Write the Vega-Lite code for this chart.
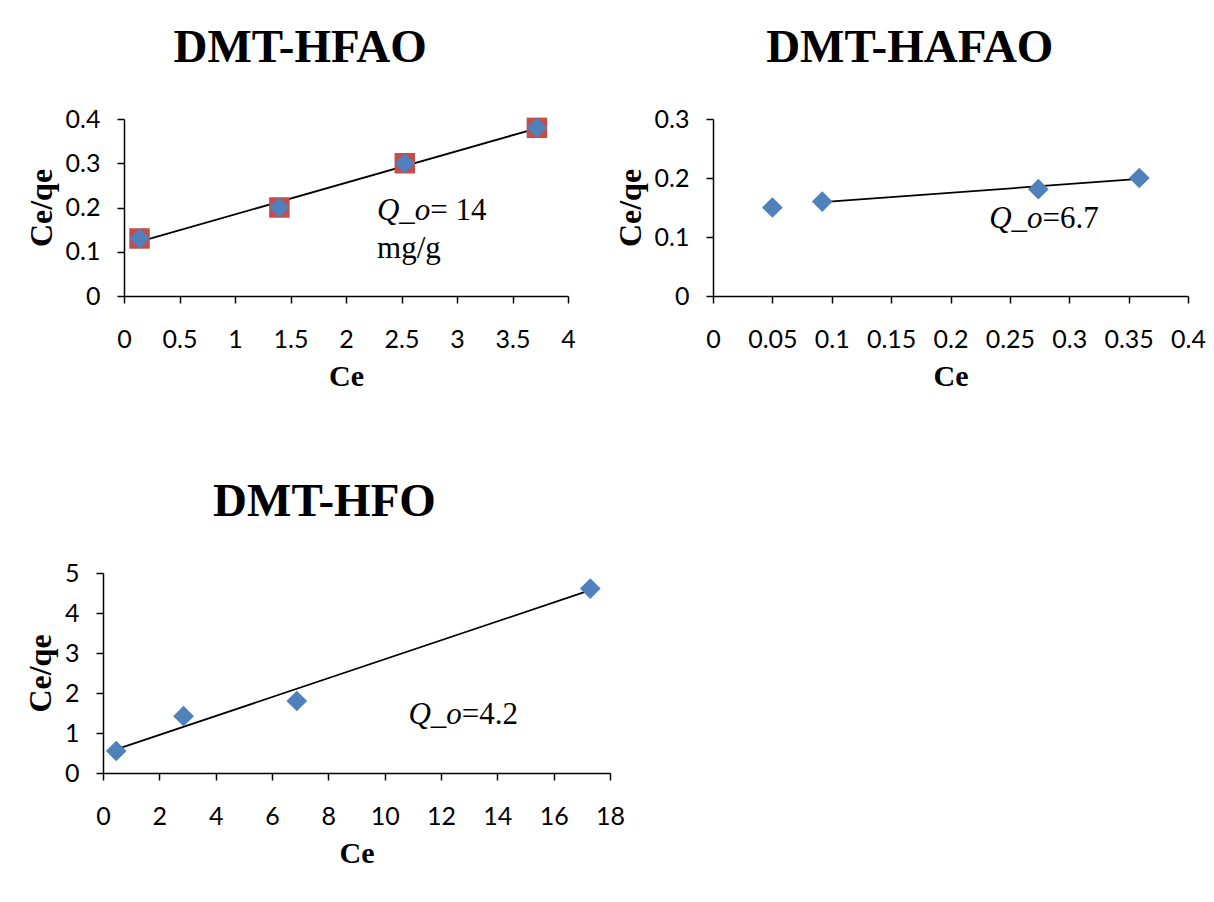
{
  "$schema": "https://vega.github.io/schema/vega-lite/v6.json",
  "background": "white",
  "padding": {"left": 24, "top": 24, "right": 5, "bottom": 5},
  "datasets": {
    "pts1": [{"Ce": 0.14, "ratio": 0.13}, {"Ce": 1.4, "ratio": 0.2}, {"Ce": 2.53, "ratio": 0.3}, {"Ce": 3.72, "ratio": 0.38}],
    "fit1": [{"Ce": 0.14, "ratio": 0.123}, {"Ce": 3.72, "ratio": 0.379}],
    "q1": [{"Ce": 2.76, "ratio": 0.172, "label": "Q_o"}],
    "r1": [{"Ce": 2.76, "ratio": 0.172, "label": "= 14"}, {"Ce": 2.28, "ratio": 0.086, "label": "mg/g"}],
    "pts2": [{"Ce": 0.05, "ratio": 0.15}, {"Ce": 0.092, "ratio": 0.16}, {"Ce": 0.274, "ratio": 0.181}, {"Ce": 0.359, "ratio": 0.2}],
    "fit2": [{"Ce": 0.092, "ratio": 0.159}, {"Ce": 0.359, "ratio": 0.1985}],
    "q2": [{"Ce": 0.2775, "ratio": 0.115, "label": "Q_o"}],
    "r2": [{"Ce": 0.2775, "ratio": 0.115, "label": "=6.7"}],
    "pts3": [{"Ce": 0.47, "ratio": 0.55}, {"Ce": 2.86, "ratio": 1.42}, {"Ce": 6.88, "ratio": 1.8}, {"Ce": 17.3, "ratio": 4.61}],
    "fit3": [{"Ce": 0.47, "ratio": 0.59}, {"Ce": 17.3, "ratio": 4.57}],
    "q3": [{"Ce": 12.74, "ratio": 1.22, "label": "Q_o"}],
    "r3": [{"Ce": 12.74, "ratio": 1.22, "label": "=4.2"}]
  },
  "config": {
    "view": {"stroke": null},
    "axis": {
      "grid": false, "domainColor": "black", "domainWidth": 1.5, "tickColor": "black", "tickWidth": 1.5, "tickSize": 7,
      "labelFont": "Liberation Sans Narrow, Lato", "labelFontSize": 25, "labelColor": "black", "labelOverlap": false,
      "titleFont": "Liberation Serif", "titleFontSize": 30, "titleFontWeight": "bold", "titleColor": "black"
    },
    "axisX": {"labelPadding": 24, "titlePadding": 9, "labelFlush": false},
    "axisY": {"labelPadding": 17, "titlePadding": 7, "titleFontSize": 32},
    "title": {"font": "Liberation Serif", "fontSize": 47, "fontWeight": "bold", "color": "black", "frame": "bounds", "anchor": "middle", "offset": 35},
    "text": {"font": "Liberation Serif", "fontSize": 31, "color": "black", "baseline": "alphabetic"}
  },
  "spacing": 87,
  "vconcat": [
    {
      "spacing": 38,
      "hconcat": [
        {
          "title": "DMT-HFAO",
          "width": 465, "height": 177,
          "encoding": {
            "x": {"field": "Ce", "type": "quantitative", "scale": {"domain": [0, 4], "range": [21, 465]}, "axis": {"title": "Ce", "values": [0, 0.5, 1, 1.5, 2, 2.5, 3, 3.5, 4], "format": "~g"}},
            "y": {"field": "ratio", "type": "quantitative", "scale": {"domain": [0, 0.4]}, "axis": {"title": "Ce/qe", "values": [0, 0.1, 0.2, 0.3, 0.4], "format": "~g", "offset": -21}}
          },
          "layer": [
            {"data": {"name": "fit1"}, "mark": {"type": "line", "color": "black", "strokeWidth": 1.8}},
            {"data": {"name": "pts1"}, "mark": {"type": "point", "shape": "square", "filled": true, "size": 420, "color": "#C0504D", "opacity": 1}},
            {"data": {"name": "pts1"}, "mark": {"type": "point", "shape": "diamond", "filled": true, "size": 400, "color": "#4F81BD", "opacity": 1}},
            {"data": {"name": "q1"}, "mark": {"type": "text", "align": "right", "fontStyle": "italic"}, "encoding": {"text": {"field": "label"}}},
            {"data": {"name": "r1"}, "mark": {"type": "text", "align": "left"}, "encoding": {"text": {"field": "label"}}}
          ]
        },
        {
          "title": "DMT-HAFAO",
          "width": 475, "height": 177,
          "encoding": {
            "x": {"field": "Ce", "type": "quantitative", "scale": {"domain": [0, 0.4]}, "axis": {"title": "Ce", "values": [0, 0.05, 0.1, 0.15, 0.2, 0.25, 0.3, 0.35, 0.4], "format": "~g"}},
            "y": {"field": "ratio", "type": "quantitative", "scale": {"domain": [0, 0.3]}, "axis": {"title": "Ce/qe", "values": [0, 0.1, 0.2, 0.3], "format": "~g"}}
          },
          "layer": [
            {"data": {"name": "fit2"}, "mark": {"type": "line", "color": "black", "strokeWidth": 1.8}},
            {"data": {"name": "pts2"}, "mark": {"type": "point", "shape": "diamond", "filled": true, "size": 430, "color": "#4F81BD", "opacity": 1}},
            {"data": {"name": "q2"}, "mark": {"type": "text", "align": "right", "fontStyle": "italic"}, "encoding": {"text": {"field": "label"}}},
            {"data": {"name": "r2"}, "mark": {"type": "text", "align": "left"}, "encoding": {"text": {"field": "label"}}}
          ]
        }
      ]
    },
    {
      "title": "DMT-HFO",
      "width": 507, "height": 200,
      "encoding": {
        "x": {"field": "Ce", "type": "quantitative", "scale": {"domain": [0, 18]}, "axis": {"title": "Ce", "values": [0, 2, 4, 6, 8, 10, 12, 14, 16, 18], "format": "~g"}},
        "y": {"field": "ratio", "type": "quantitative", "scale": {"domain": [0, 5]}, "axis": {"title": "Ce/qe", "values": [0, 1, 2, 3, 4, 5], "format": "~g"}}
      },
      "layer": [
        {"data": {"name": "fit3"}, "mark": {"type": "line", "color": "black", "strokeWidth": 1.8}},
        {"data": {"name": "pts3"}, "mark": {"type": "point", "shape": "diamond", "filled": true, "size": 430, "color": "#4F81BD", "opacity": 1}},
        {"data": {"name": "q3"}, "mark": {"type": "text", "align": "right", "fontStyle": "italic"}, "encoding": {"text": {"field": "label"}}},
        {"data": {"name": "r3"}, "mark": {"type": "text", "align": "left"}, "encoding": {"text": {"field": "label"}}}
      ]
    }
  ]
}
